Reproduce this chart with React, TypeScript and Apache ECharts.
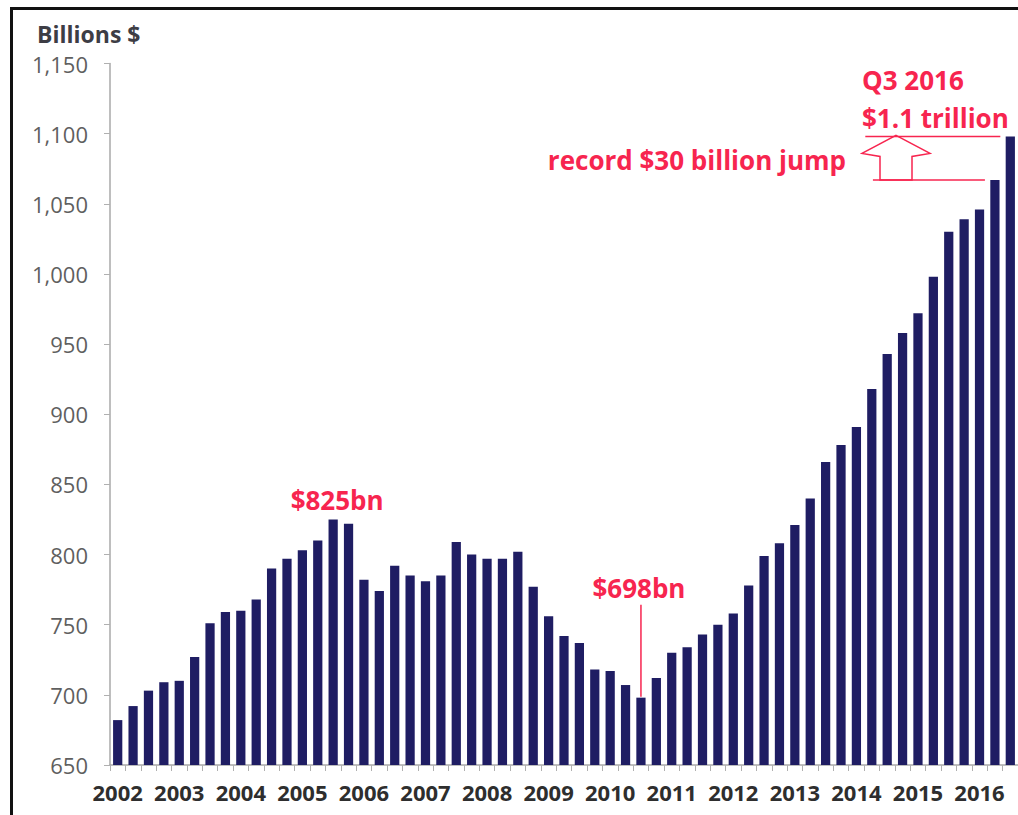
import React, { useEffect, useRef } from 'react';
import * as echarts from 'echarts';

const years = ['2002', '2003', '2004', '2005', '2006', '2007', '2008', '2009', '2010', '2011', '2012', '2013', '2014', '2015', '2016'];
const quarterNames = ['Q1', 'Q2', 'Q3', 'Q4'];

// Billions $, quarterly, Q1 2002 .. Q3 2016
const values = [
  682, 692, 703, 709,
  710, 727, 751, 759,
  760, 768, 790, 797,
  803, 810, 825, 822,
  782, 774, 792, 785,
  781, 785, 809, 800,
  797, 797, 802, 777,
  756, 742, 737, 718,
  717, 707, 698, 712,
  730, 734, 743, 750,
  758, 778, 799, 808,
  821, 840, 866, 878,
  891, 918, 943, 958,
  972, 998, 1030, 1039,
  1046, 1067, 1098,
];

const categories = years.flatMap((y) => quarterNames.map((q) => `${q} ${y}`)).slice(0, values.length);

const yMin = 650;
const yMax = 1150;
const yStep = 50;

const unitLabel = 'Billions $';
const peakIndex = 14;
const peakText = '$825bn';
const troughIndex = 34;
const troughText = '$698bn';
const latestTitle = 'Q3 2016';
const latestText = '$1.1 trillion';
const jumpText = 'record $30 billion jump';

const RED = '#f7254f';
const BAR = '#1f1d63';
const ANNOT_FONT = '"Open Sans", "DejaVu Sans", sans-serif';

export default function App() {
  const ref = useRef<HTMLDivElement>(null);

  useEffect(() => {
    if (!ref.current) return;
    const chart = echarts.init(ref.current, undefined, { renderer: 'svg' });
    chart.setOption({
      animation: false,
      backgroundColor: '#ffffff',
      grid: { left: 110, right: 0, top: 63.5, bottom: 50, containLabel: false },
      xAxis: {
        type: 'category',
        data: categories,
        axisLine: { show: true, lineStyle: { color: '#a8a8a8', width: 1.5 } },
        axisTick: { show: true, interval: 0, alignWithLabel: false, length: 6, lineStyle: { color: '#b0b0b0' } },
        axisLabel: {
          interval: 3,
          margin: 16,
          color: '#2e2e2e',
          fontSize: 22,
          fontWeight: 'bold',
          fontFamily: '"Open Sans", sans-serif',
          formatter: (v: string) => v.split(' ')[1],
        },
        splitLine: { show: false },
      },
      yAxis: {
        type: 'value',
        min: yMin,
        max: yMax,
        interval: yStep,
        axisLine: { show: true, lineStyle: { color: '#a8a8a8', width: 1.5 } },
        axisTick: { show: true, length: 6, inside: false, lineStyle: { color: '#b0b0b0' } },
        axisLabel: {
          margin: 22,
          color: '#5f5f5f',
          fontSize: 22,
          fontFamily: '"Open Sans", sans-serif',
          formatter: (v: number) => v.toLocaleString('en-US'),
        },
        splitLine: { show: false },
      },
      series: [
        {
          type: 'bar',
          data: values,
          barWidth: '60%',
          itemStyle: { color: BAR },
        },
      ],
    });

    const px = (i: number, v: number = values[i]) =>
      chart.convertToPixel({ xAxisIndex: 0, yAxisIndex: 0 }, [i, v]) as number[];

    const last = values.length - 1;
    const pPeak = px(peakIndex);
    const pTrough = px(troughIndex);
    const pLast = px(last);
    const pPrev = px(last - 1);

    const topY = pLast[1];
    const botY = pPrev[1];
    const arrowCx = 896;
    const wingY = topY + 17;
    const shaftTopY = topY + 20;

    const textStyle = (text: string, x: number, y: number, align: string) => ({
      type: 'text',
      style: {
        text,
        x,
        y,
        fill: RED,
        fontSize: 26,
        fontWeight: 'bold',
        fontFamily: ANNOT_FONT,
        textAlign: align,
        textVerticalAlign: 'middle',
      },
    });

    chart.setOption({
      graphic: [
        // frame
        { type: 'line', shape: { x1: 10, y1: 8.5, x2: 1018, y2: 8.5 }, style: { stroke: '#111', lineWidth: 3 } },
        { type: 'line', shape: { x1: 11.5, y1: 7, x2: 11.5, y2: 815 }, style: { stroke: '#111', lineWidth: 3 } },
        {
          type: 'text',
          style: {
            text: unitLabel,
            x: 37,
            y: 34,
            fill: '#3d3d45',
            fontSize: 23,
            fontWeight: 'bold',
            fontFamily: ANNOT_FONT,
            textAlign: 'left',
            textVerticalAlign: 'middle',
          },
        },
        textStyle(peakText, pPeak[0] + 4, pPeak[1] - 19, 'center'),
        textStyle(troughText, pTrough[0] - 2, pTrough[1] - 110, 'center'),
        {
          type: 'line',
          shape: { x1: pTrough[0], y1: pTrough[1] - 93, x2: pTrough[0], y2: pTrough[1] - 1 },
          style: { stroke: RED, lineWidth: 1.5 },
        },
        textStyle(latestTitle, 862, 80, 'left'),
        textStyle(latestText, 862, 118, 'left'),
        textStyle(jumpText, 846, 160, 'right'),
        {
          type: 'line',
          shape: { x1: pLast[0] - 145, y1: topY, x2: pLast[0] - 10, y2: topY },
          style: { stroke: RED, lineWidth: 1.5 },
        },
        {
          type: 'line',
          shape: { x1: pPrev[0] - 122, y1: botY, x2: pPrev[0] - 10, y2: botY },
          style: { stroke: RED, lineWidth: 1.5 },
        },
        {
          type: 'polygon',
          shape: {
            points: [
              [arrowCx, topY - 1],
              [arrowCx + 34, wingY],
              [arrowCx + 16, shaftTopY],
              [arrowCx + 16, botY],
              [arrowCx - 16, botY],
              [arrowCx - 16, shaftTopY],
              [arrowCx - 34, wingY],
            ],
          },
          style: { stroke: RED, fill: 'none', lineWidth: 1.5 },
        },
      ],
    });

    return () => chart.dispose();
  }, []);

  return <div ref={ref} style={{ position: 'fixed', left: 0, top: 0, width: 1018, height: 815 }} />;
}
